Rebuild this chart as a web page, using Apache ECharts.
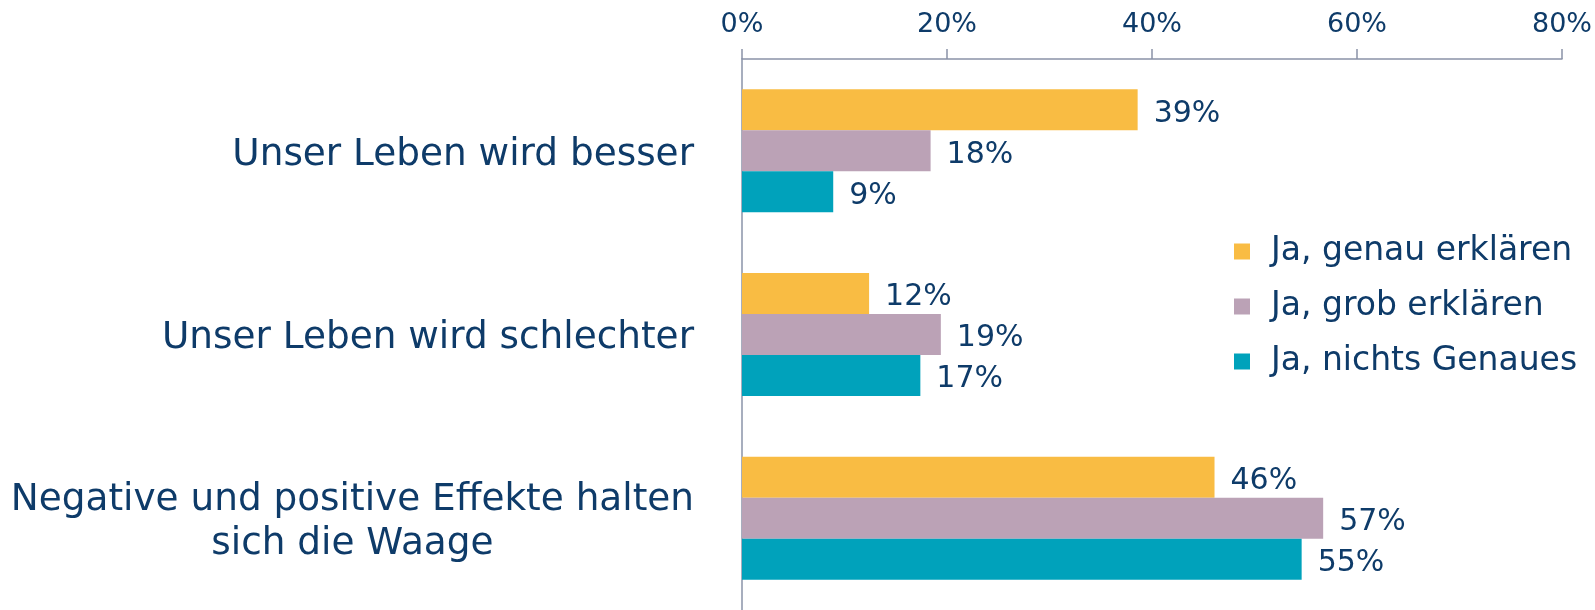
<!DOCTYPE html>
<html>
<head>
<meta charset="utf-8">
<script src="https://cdn.jsdelivr.net/npm/echarts@6/dist/echarts.min.js"></script>
<style>html,body{margin:0;padding:0;background:#fff}#c{width:1595px;height:610px}</style>
</head>
<body>
<div id="c"></div>
<script>
const categories = ["Unser Leben wird besser", "Unser Leben wird schlechter", "Negative und positive Effekte halten\nsich die Waage"];
const seriesNames = ["Ja, genau erklären", "Ja, grob erklären", "Ja, nichts Genaues"];
const genau = [38.6, 12.4, 46.1];
const grob = [18.4, 19.4, 56.7];
const nichts = [8.9, 17.4, 54.6];
const tickValues = [0, 20, 40, 60, 80];

const textColor = '#0E3B69';
const font = 'DejaVu Sans';
const colors = ['#F9BC43', '#BBA2B6', '#00A2BB'];

const chart = echarts.init(document.getElementById('c'), null, {renderer: 'canvas'});
function mk(name, data, color) {
  return {
    name: name, type: 'bar', data: data, barWidth: 41, barGap: '0%',
    itemStyle: {color: color},
    label: {show: true, position: 'right', distance: 16, color: textColor, fontFamily: font, fontSize: 30,
      offset: [0, 4],
      formatter: p => Math.round(p.value) + '%'}
  };
}
chart.setOption({
  animation: false,
  grid: {left: 742, right: 33, top: 59, height: 555, containLabel: false},
  legend: {
    orient: 'vertical', left: 1229, top: 230, icon: 'rect', itemWidth: 16, itemHeight: 16, itemGap: 22,
    data: seriesNames,
    textStyle: {color: textColor, fontFamily: font, fontSize: 33, lineHeight: 33, padding: [0, 0, 0, 16]}
  },
  xAxis: {
    type: 'value', position: 'top', min: tickValues[0], max: tickValues[tickValues.length - 1], interval: 20,
    axisLine: {show: true, lineStyle: {color: '#8A93A8', width: 1.5}},
    axisTick: {show: true, length: 10, lineStyle: {color: '#8A93A8', width: 1.5}},
    splitLine: {show: false},
    axisLabel: {margin: 21, color: textColor, fontFamily: font, fontSize: 27, formatter: v => v + '%'}
  },
  yAxis: {
    type: 'category', data: categories, inverse: true,
    axisLine: {show: true, lineStyle: {color: '#8A93A8', width: 1.5}},
    axisTick: {show: false},
    axisLabel: {
      margin: 48, color: textColor, fontFamily: font, fontSize: 37.4, padding: [8, 0, 0, 0],
      formatter: v => v.split('\n').map(s => '{c|' + s + '}').join('\n'),
      rich: {c: {align: 'center', fontSize: 37.4, lineHeight: 44, color: textColor, fontFamily: font}}
    }
  },
  series: [mk(seriesNames[0], genau, colors[0]), mk(seriesNames[1], grob, colors[1]), mk(seriesNames[2], nichts, colors[2])]
});
</script>
</body>
</html>
